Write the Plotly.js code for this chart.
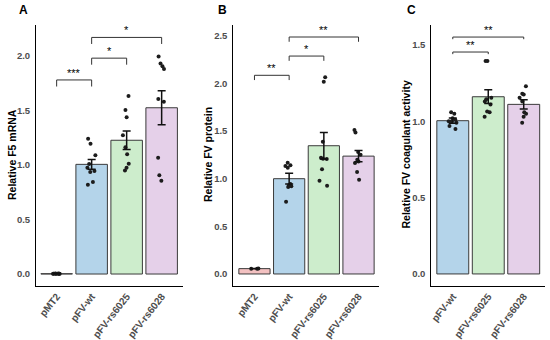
<!DOCTYPE html>
<html><head><meta charset="utf-8">
<script src="https://cdn.plot.ly/plotly-3.0.1.min.js"></script>
<style>html,body{margin:0;padding:0;background:#fff}#chart{width:550px;height:340px}</style>
</head><body><div id="chart"></div>
<script>
// ---------- data ----------
const groupsAB = ['pMT2', 'pFV-wt', 'pFV-rs6025', 'pFV-rs6028'];
const groupsC = ['pFV-wt', 'pFV-rs6025', 'pFV-rs6028'];

// Panel A: Relative F5 mRNA
const meanA = [0.003, 1.006, 1.227, 1.525];
const semA = [0.001, 0.045, 0.085, 0.155];
const ptsA_pMT2 = [0.003, 0.002, 0.003, 0.004, 0.003, 0.002, 0.003, 0.004, 0.003];
const ptsA_wt = [1.24, 1.195, 1.09, 1.01, 0.975, 0.945, 0.935, 0.845, 0.82];
const ptsA_rs6025 = [1.633, 1.505, 1.437, 1.272, 1.162, 1.098, 1.012, 0.975, 0.95];
const ptsA_rs6028 = [1.994, 1.93, 1.905, 1.88, 1.606, 1.581, 1.067, 0.905, 0.856];

// Panel B: Relative FV protein
const meanB = [0.056, 1.0, 1.346, 1.237];
const semB = [0.002, 0.056, 0.14, 0.06];
const ptsB_pMT2 = [0.058, 0.055, 0.055];
const ptsB_wt = [1.168, 1.14, 1.133, 1.115, 0.944, 0.93, 0.92, 0.913, 0.759];
const ptsB_rs6025 = [2.064, 2.018, 1.388, 1.22, 1.21, 1.207, 1.099, 0.979, 0.927];
const ptsB_rs6028 = [1.51, 1.485, 1.28, 1.25, 1.2, 1.18, 1.165, 1.07, 0.99];

// Panel C: Relative FV coagulant activity
const meanC = [1.004, 1.161, 1.111];
const semC = [0.017, 0.045, 0.03];
const ptsC_wt = [1.06, 1.05, 1.02, 1.01, 1.0, 1.0, 0.99, 0.97, 0.95];
const ptsC_rs6025 = [1.395, 1.395, 1.155, 1.145, 1.13, 1.11, 1.065, 1.06, 1.03];
const ptsC_rs6028 = [1.23, 1.18, 1.175, 1.155, 1.13, 1.06, 1.05, 1.03, 0.99];

// significance comparisons: [from, to, level, label]
const sigA = [['pMT2', 'pFV-wt', 1.78, '***'], ['pFV-wt', 'pFV-rs6025', 1.98, '*'], ['pFV-wt', 'pFV-rs6028', 2.17, '*']];
const sigB = [['pMT2', 'pFV-wt', 2.085, '**'], ['pFV-wt', 'pFV-rs6025', 2.287, '*'], ['pFV-wt', 'pFV-rs6028', 2.487, '**']];
const sigC = [['pFV-wt', 'pFV-rs6025', 1.454, '**'], ['pFV-wt', 'pFV-rs6028', 1.552, '**']];

// ---------- styles ----------
const colorsAB = ['#F3C1C1', '#B4D4EA', '#CDEDCC', '#E5D0E9'];
const colorsC = ['#B4D4EA', '#CDEDCC', '#E5D0E9'];
const FONT = 'Liberation Sans, Arial, Helvetica, sans-serif';

const traces = [];
function panel(groups, means, sems, pts, colors, xa, ya) {
  traces.push({
    type: 'bar', x: groups, y: means, xaxis: xa, yaxis: ya,
    width: 0.9,
    marker: {color: colors, line: {color: '#3a3a3a', width: 1}},
    hoverinfo: 'skip', showlegend: false
  });
  const xs = [], ys = [];
  groups.forEach((g, i) => pts[i].forEach(v => { xs.push(g); ys.push(v); }));
  traces.push({
    type: 'box', x: xs, y: ys, xaxis: xa, yaxis: ya,
    boxpoints: 'all', jitter: 0.6, pointpos: 0,
    fillcolor: 'rgba(0,0,0,0)', line: {width: 0, color: 'rgba(0,0,0,0)'},
    marker: {color: '#1c1c1c', size: 4},
    hoverinfo: 'skip', showlegend: false
  });
  traces.push({
    type: 'scatter', mode: 'markers', x: groups, y: means, xaxis: xa, yaxis: ya,
    marker: {size: 1, color: 'rgba(0,0,0,0)'},
    error_y: {type: 'data', array: sems, visible: true, color: '#111', thickness: 1.5, width: 4},
    hoverinfo: 'skip', showlegend: false
  });
}
panel(groupsAB, meanA, semA, [ptsA_pMT2, ptsA_wt, ptsA_rs6025, ptsA_rs6028], colorsAB, 'x', 'y');
panel(groupsAB, meanB, semB, [ptsB_pMT2, ptsB_wt, ptsB_rs6025, ptsB_rs6028], colorsAB, 'x2', 'y2');
panel(groupsC, meanC, semC, [ptsC_wt, ptsC_rs6025, ptsC_rs6028], colorsC, 'x3', 'y3');

const shapes = [], annotations = [];
function brackets(sig, groups, xref, yref, drop) {
  sig.forEach(s => {
    const [a, b, lv, lab] = s;
    const ln = {color: '#333', width: 1};
    shapes.push({type: 'line', xref, yref, x0: a, x1: b, y0: lv, y1: lv, line: ln});
    shapes.push({type: 'line', xref, yref, x0: a, x1: a, y0: lv, y1: lv - drop, line: ln});
    shapes.push({type: 'line', xref, yref, x0: b, x1: b, y0: lv, y1: lv - drop, line: ln});
    annotations.push({xref, yref, x: (groups.indexOf(a) + groups.indexOf(b)) / 2, y: lv,
      yanchor: 'bottom', yshift: -1, showarrow: false, text: lab,
      font: {family: FONT, size: 11, color: '#000'}});
  });
}
brackets(sigA, groupsAB, 'x', 'y', 0.06);
brackets(sigB, groupsAB, 'x2', 'y2', 0.05);
brackets(sigC, groupsC, 'x3', 'y3', 0.014);

const W = 550, H = 340;
function paperLabel(text, px, py, size, angle) {
  annotations.push({xref: 'paper', yref: 'paper', x: px / W, y: 1 - py / H,
    xanchor: 'center', yanchor: 'middle', showarrow: false, text, textangle: angle || 0,
    font: {family: FONT, size, color: '#000', weight: 'bold'}});
}
paperLabel('A', 23, 10, 12);
paperLabel('B', 222, 10, 12);
paperLabel('C', 411, 10, 12);
paperLabel('Relative F5 mRNA', 12, 155, 10.5, -90);
paperLabel('Relative FV protein', 208, 155, 10.5, -90);
paperLabel('Relative FV coagulant activity', 405.5, 155, 10.5, -90);

const yDom = [1 - 285.7 / H, 1 - 25 / H];
const xTickFont = {family: FONT, size: 10, color: '#4D4D4D', weight: 'bold'};
const yTickFont = {family: FONT, size: 9.5, color: '#4D4D4D', weight: 'bold'};
function xax(dom, rng, anchor) {
  return {domain: dom, range: rng, type: 'category', anchor, showline: true, linecolor: '#000', linewidth: 1,
    ticks: '', showgrid: false, zeroline: false, tickangle: -52, tickfont: xTickFont, fixedrange: true};
}
function yax(rng, dt, anchor) {
  return {domain: yDom, range: rng, anchor, dtick: dt, tickformat: '.1f', showline: true, linecolor: '#000',
    linewidth: 1, ticks: '', showgrid: false, zeroline: false, tickfont: yTickFont, ticklabelstandoff: 3, fixedrange: true};
}

const layout = {
  width: W, height: H, margin: {l: 0, r: 0, t: 0, b: 0},
  paper_bgcolor: '#fff', plot_bgcolor: '#fff', showlegend: false,
  font: {family: FONT},
  xaxis: xax([36 / W, 183 / W], [-0.59, 3.61], 'y'),
  yaxis: yax([-0.107, 2.284], 0.5, 'x'),
  xaxis2: xax([233.3 / W, 379 / W], [-0.61, 3.59], 'y2'),
  yaxis2: yax([-0.123, 2.613], 0.5, 'x2'),
  xaxis3: xax([431.3 / W, 545 / W], [-0.606, 2.6], 'y3'),
  yaxis3: yax([-0.077, 1.631], 0.5, 'x3'),
  shapes, annotations
};
Plotly.newPlot('chart', traces, layout, {staticPlot: true, displayModeBar: false});
</script>
</body></html>
